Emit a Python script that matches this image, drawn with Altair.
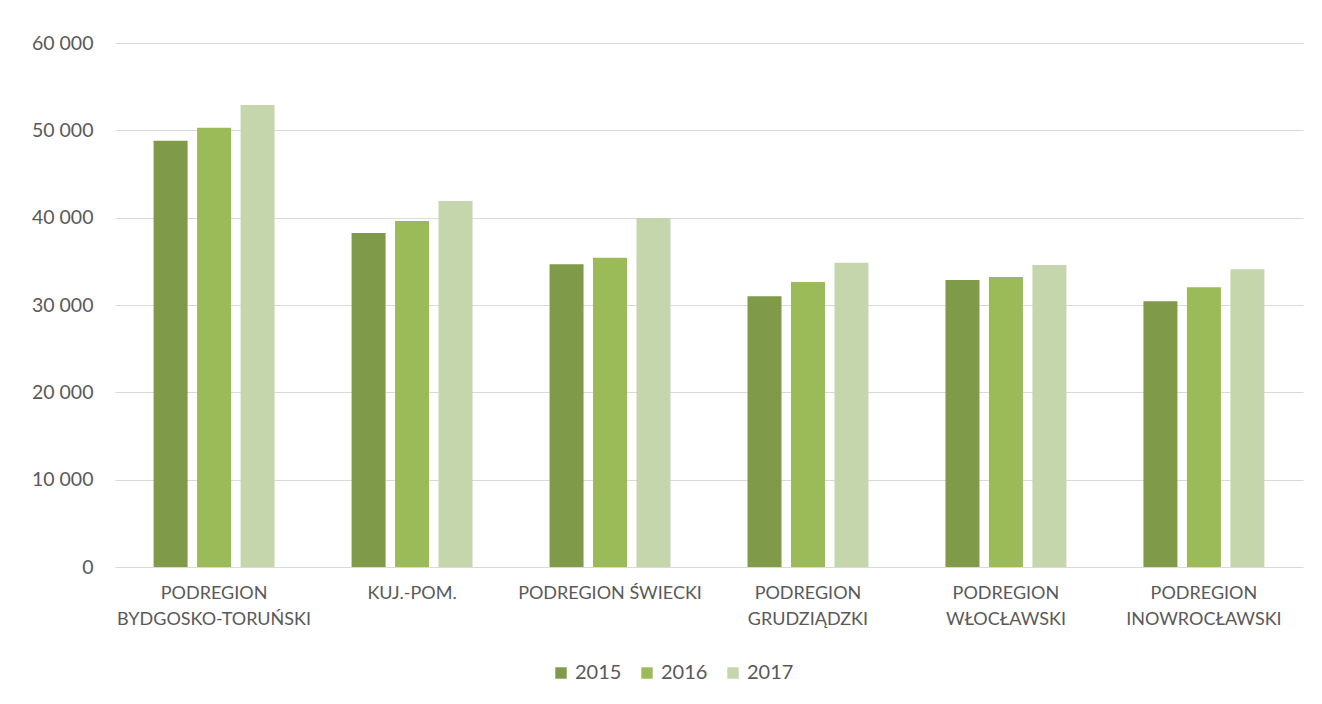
import altair as alt
import pandas as pd

categories = [
    "PODREGION BYDGOSKO-TORUŃSKI",
    "KUJ.-POM.",
    "PODREGION ŚWIECKI",
    "PODREGION GRUDZIĄDZKI",
    "PODREGION WŁOCŁAWSKI",
    "PODREGION INOWROCŁAWSKI",
]
years = ["2015", "2016", "2017"]
v2015 = [48800, 38250, 34660, 31000, 32860, 30420]
v2016 = [50300, 39620, 35420, 32640, 33200, 32030]
v2017 = [52900, 41900, 39950, 34850, 34580, 34090]
colors = ["#7F9A48", "#9BBB59", "#C6D6AC"]

rows = []
for i, c in enumerate(categories):
    for y, vals in zip(years, [v2015, v2016, v2017]):
        rows.append({"region": c, "year": y, "value": vals[i]})
df = pd.DataFrame(rows)

FONT = "Lato"
GRAY = "#595959"

chart = alt.Chart(df).mark_bar().encode(
    x=alt.X(
        "region:N",
        sort=categories,
        title=None,
        scale=alt.Scale(paddingInner=0.389, paddingOuter=0.195),
        axis=alt.Axis(
            labelAngle=0,
            labelExpr="length(datum.value) > 18 ? split(datum.value, ' ') : datum.value",
            labelFont=FONT,
            labelFontSize=18,
            labelColor=GRAY,
            labelPadding=17,
            labelLineHeight=26,
            labelLimit=400,
            ticks=False,
            domain=False,
            labelBaseline="top",
        ),
    ),
    xOffset=alt.XOffset(
        "year:N",
        sort=years,
        scale=alt.Scale(paddingInner=0.218, paddingOuter=0),
    ),
    y=alt.Y(
        "value:Q",
        title=None,
        scale=alt.Scale(domain=[0, 60000], nice=False),
        axis=alt.Axis(
            values=[0, 10000, 20000, 30000, 40000, 50000, 60000],
            labelExpr="replace(format(datum.value, ',d'), ',', ' ')",
            labelFont=FONT,
            labelFontSize=19.5,
            labelColor=GRAY,
            labelPadding=22,
            ticks=False,
            domain=False,
            gridColor="#D9D9D9",
            gridWidth=1.2,
        ),
    ),
    color=alt.Color(
        "year:N",
        sort=years,
        scale=alt.Scale(domain=years, range=colors),
        legend=alt.Legend(
            title=None,
            orient="none",
            legendX=436,
            legendY=620,
            direction="horizontal",
            symbolType="square",
            symbolSize=130,
            symbolStrokeWidth=0,
            labelFont=FONT,
            labelFontSize=20,
            labelColor=GRAY,
            columnPadding=15,
        ),
    ),
).properties(
    width=1188,
    height=524,
    autosize=alt.AutoSizeParams(type="none"),
    padding={"left": 107, "top": 35, "right": 10, "bottom": 125},
).configure_view(stroke=None)

chart.save("out.html", embed_options={"renderer": "svg", "actions": False})
